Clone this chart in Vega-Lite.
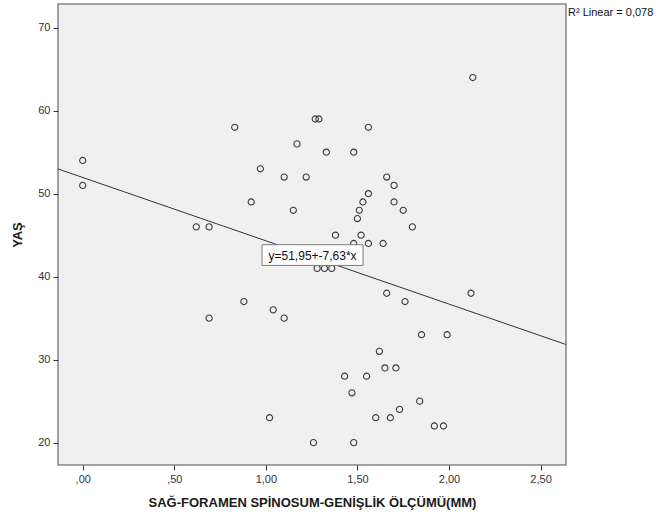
{
  "$schema": "https://vega.github.io/schema/vega-lite/v6.json",
  "autosize": {"type": "none"},
  "width": 508,
  "height": 461,
  "padding": {"left": 58, "top": 4, "right": 95, "bottom": 57},
  "background": "#ffffff",
  "config": {
    "view": {"fill": "#f0f0f0", "stroke": "#858585", "strokeWidth": 1.5},
    "font": "Liberation Sans",
    "axis": {"grid": false, "domain": false, "tickColor": "#333333", "tickSize": 5, "labelFont": "Liberation Sans", "labelFontSize": 11, "labelColor": "#333333", "labelPadding": 3, "titleFont": "Liberation Sans", "titleFontSize": 13, "titleFontWeight": "bold", "titleColor": "#1a1a1a"}
  },
  "datasets": {
    "pts": [
      {"x": 0.00, "y": 54}, {"x": 0.00, "y": 51}, {"x": 0.83, "y": 58}, {"x": 1.27, "y": 59}, {"x": 1.29, "y": 59},
      {"x": 1.17, "y": 56}, {"x": 0.97, "y": 53}, {"x": 1.10, "y": 52}, {"x": 1.22, "y": 52}, {"x": 0.92, "y": 49},
      {"x": 1.15, "y": 48}, {"x": 0.62, "y": 46}, {"x": 0.69, "y": 46}, {"x": 2.13, "y": 64}, {"x": 1.56, "y": 58},
      {"x": 1.33, "y": 55}, {"x": 1.48, "y": 55}, {"x": 1.66, "y": 52}, {"x": 1.70, "y": 51}, {"x": 1.56, "y": 50},
      {"x": 1.53, "y": 49}, {"x": 1.70, "y": 49}, {"x": 1.51, "y": 48}, {"x": 1.75, "y": 48}, {"x": 1.50, "y": 47},
      {"x": 1.80, "y": 46}, {"x": 1.38, "y": 45}, {"x": 1.52, "y": 45}, {"x": 1.48, "y": 44}, {"x": 1.56, "y": 44},
      {"x": 1.64, "y": 44}, {"x": 1.28, "y": 41}, {"x": 1.32, "y": 41}, {"x": 1.36, "y": 41}, {"x": 1.66, "y": 38},
      {"x": 2.12, "y": 38}, {"x": 1.76, "y": 37}, {"x": 1.85, "y": 33}, {"x": 1.99, "y": 33}, {"x": 1.62, "y": 31},
      {"x": 1.65, "y": 29}, {"x": 1.71, "y": 29}, {"x": 1.43, "y": 28}, {"x": 1.55, "y": 28}, {"x": 1.47, "y": 26},
      {"x": 1.84, "y": 25}, {"x": 1.73, "y": 24}, {"x": 1.60, "y": 23}, {"x": 1.68, "y": 23}, {"x": 1.92, "y": 22},
      {"x": 1.97, "y": 22}, {"x": 1.26, "y": 20}, {"x": 1.48, "y": 20}, {"x": 0.88, "y": 37}, {"x": 0.69, "y": 35},
      {"x": 1.04, "y": 36}, {"x": 1.10, "y": 35}, {"x": 1.02, "y": 23}
    ],
    "fit": [{"x": -0.135, "y": 52.98}, {"x": 2.639, "y": 31.82}],
    "eq": [{"x": 1.255, "y": 42.6, "label": "y=51,95+-7,63*x"}],
    "r2": [{"x": 2.639, "y": 71.8, "label": "R² Linear = 0,078"}]
  },
  "encoding": {
    "x": {"field": "x", "type": "quantitative", "scale": {"domain": [-0.135, 2.639], "nice": false, "zero": false},
      "axis": {"values": [0, 0.5, 1, 1.5, 2, 2.5], "title": "SAĞ-FORAMEN SPİNOSUM-GENİŞLİK ÖLÇÜMÜ(MM)", "titlePadding": 12,
        "labelExpr": "datum.value < 1 ? replace(format(datum.value, '.2f'), '0.', ',') : replace(format(datum.value, '.2f'), '.', ',')"}},
    "y": {"field": "y", "type": "quantitative", "scale": {"domain": [17.3, 72.86], "nice": false, "zero": false},
      "axis": {"values": [20, 30, 40, 50, 60, 70], "title": "YAŞ", "titlePadding": 13}}
  },
  "layer": [
    {"data": {"name": "fit"}, "mark": {"type": "line", "color": "#333333", "strokeWidth": 1, "clip": true}},
    {"data": {"name": "pts"}, "mark": {"type": "point", "shape": "circle", "filled": false, "size": 38, "stroke": "#3a3a3a", "strokeWidth": 1.1, "opacity": 1}},
    {"data": {"name": "eq"}, "mark": {"type": "point", "shape": "M-1,-0.205H1V0.205H-1Z", "size": 10200, "filled": true, "fill": "#ffffff", "stroke": "#7a7a7a", "strokeWidth": 1, "opacity": 1}},
    {"data": {"name": "eq"}, "mark": {"type": "text", "font": "Liberation Sans", "fontSize": 12, "color": "#111111", "align": "center", "baseline": "middle", "dy": 1}, "encoding": {"text": {"field": "label"}}},
    {"data": {"name": "r2"}, "mark": {"type": "text", "font": "Liberation Sans", "fontSize": 11, "color": "#111111", "align": "left", "baseline": "middle", "dx": 2}, "encoding": {"text": {"field": "label"}}}
  ]
}
